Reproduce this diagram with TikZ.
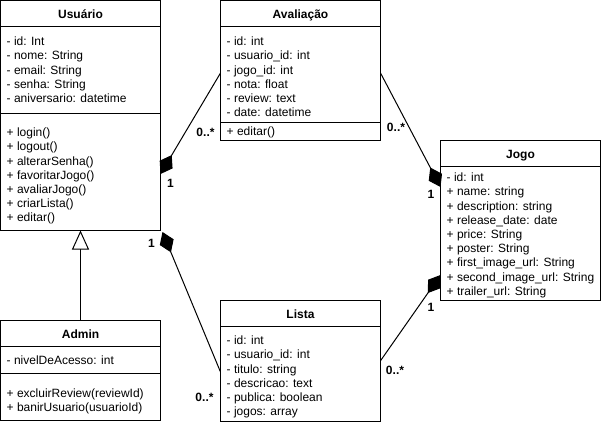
\documentclass[tikz,border=0pt]{standalone}
\usepackage{fontspec}
\setmainfont{Liberation Sans}
\usetikzlibrary{arrows.meta}
\newcommand\umlfont{\fontsize{12}{14.2}\selectfont}
\begin{document}
\begin{tikzpicture}[x=1pt,y=-1pt,
  cls/.style={draw=black, line width=1pt, inner sep=0pt, outer sep=0pt, anchor=north west, fill=white},
  sepline/.style={draw=black, line width=1pt},
  ttl/.style={font=\umlfont\bfseries, anchor=base, inner sep=0pt},
  txt/.style={font=\umlfont, anchor=north west, inner sep=0pt, align=left},
  lbl/.style={font=\umlfont\bfseries, inner sep=0pt},
  comp/.style={draw=black, line width=1pt, -{Diamond[length=22pt,width=15pt,fill=black]}},
  inh/.style={draw=black, line width=1pt, -{Triangle[open,length=19pt,width=17pt,fill=white]}},
]
\useasboundingbox (0,0) rectangle (602,424);

% Usuario
\node[cls, minimum width=160pt, minimum height=230pt] (usu) at (0.5,0.5) {};
\draw[sepline] ([yshift=-25.5pt]usu.north west) -- ([yshift=-25.5pt]usu.north east);
\draw[sepline] ([yshift=-113pt]usu.north west) -- ([yshift=-113pt]usu.north east);
\node[ttl] (usu-t) at (80.5,18.5) {Usuário};
\node[txt] (usu-a) at (6.5,35.5) {\strut - id: Int\\\strut - nome: String\\\strut - email: String\\\strut - senha: String\\\strut - aniversario: datetime};
\node[txt] (usu-m) at (6.5,126.5) {\strut + login()\\\strut + logout()\\\strut + alterarSenha()\\\strut + favoritarJogo()\\\strut + avaliarJogo()\\\strut + criarLista()\\\strut + editar()};

% Avaliacao
\node[cls, minimum width=160pt, minimum height=140pt] (ava) at (220.5,0.5) {};
\draw[sepline] ([yshift=-25.5pt]ava.north west) -- ([yshift=-25.5pt]ava.north east);
\draw[sepline] ([yshift=-121.5pt]ava.north west) -- ([yshift=-121.5pt]ava.north east);
\node[ttl] (ava-t) at (300.5,18.5) {Avaliação};
\node[txt] (ava-a) at (226.5,35.5) {\strut - id: int\\\strut - usuario\_id: int\\\strut - jogo\_id: int\\\strut - nota: float\\\strut - review: text\\\strut - date: datetime};
\node[txt] (ava-m) at (226.5,125.5) {\strut + editar()};

% Jogo
\node[cls, minimum width=160pt, minimum height=160pt] (jogo) at (440.5,140.5) {};
\draw[sepline] ([yshift=-26pt]jogo.north west) -- ([yshift=-26pt]jogo.north east);
\node[ttl] (jogo-t) at (520.5,158.5) {Jogo};
\node[txt] (jogo-a) at (446.5,171.5) {\strut - id: int\\\strut + name: string\\\strut + description: string\\\strut + release\_date: date\\\strut + price: String\\\strut + poster: String\\\strut + first\_image\_url: String\\\strut + second\_image\_url: String\\\strut + trailer\_url: String};

% Lista
\node[cls, minimum width=160pt, minimum height=120.5pt] (lista) at (220.5,300.5) {};
\draw[sepline] ([yshift=-26pt]lista.north west) -- ([yshift=-26pt]lista.north east);
\node[ttl] (lista-t) at (300.5,318.5) {Lista};
\node[txt] (lista-a) at (226.5,334.5) {\strut - id: int\\\strut - usuario\_id: int\\\strut - titulo: string\\\strut - descricao: text\\\strut - publica: boolean\\\strut - jogos: array};

% Admin
\node[cls, minimum width=160pt, minimum height=100pt] (adm) at (0.5,320.5) {};
\draw[sepline] ([yshift=-26pt]adm.north west) -- ([yshift=-26pt]adm.north east);
\draw[sepline] ([yshift=-52.5pt]adm.north west) -- ([yshift=-52.5pt]adm.north east);
\node[ttl] (adm-t) at (80.5,338.5) {Admin};
\node[txt] (adm-a) at (6.5,354.5) {\strut - nivelDeAcesso: int};
\node[txt] (adm-m) at (6.5,387.5) {\strut + excluirReview(reviewId)\\\strut + banirUsuario(usuarioId)};

% connectors
\draw[inh] (adm.north) -- (usu.south);
\draw[comp] ([yshift=-2.5pt]ava.west) -- ([yshift=-58.5pt]usu.east);
\draw[comp] ([yshift=-11.25pt]lista.west) -- ([shift={(2pt,-1.5pt)}]usu.south east);
\draw[comp] ([yshift=-2.5pt]ava.east) -- ([yshift=33.5pt]jogo.west);
\draw[comp] (lista.east) -- ([yshift=-54.5pt]jogo.west);

% multiplicities
\node[lbl] (l1a) at (170.5,183.5) {1};
\node[lbl] (l1b) at (205.5,132) {0..*};
\node[lbl] (l2a) at (151.5,243.5) {1};
\node[lbl] (l2b) at (204.5,397.5) {0..*};
\node[lbl] (l3a) at (396,127.5) {0..*};
\node[lbl] (l3b) at (431,194) {1};
\node[lbl] (l4a) at (431,307) {1};
\node[lbl] (l4b) at (395,370.5) {0..*};
\end{tikzpicture}
\end{document}
